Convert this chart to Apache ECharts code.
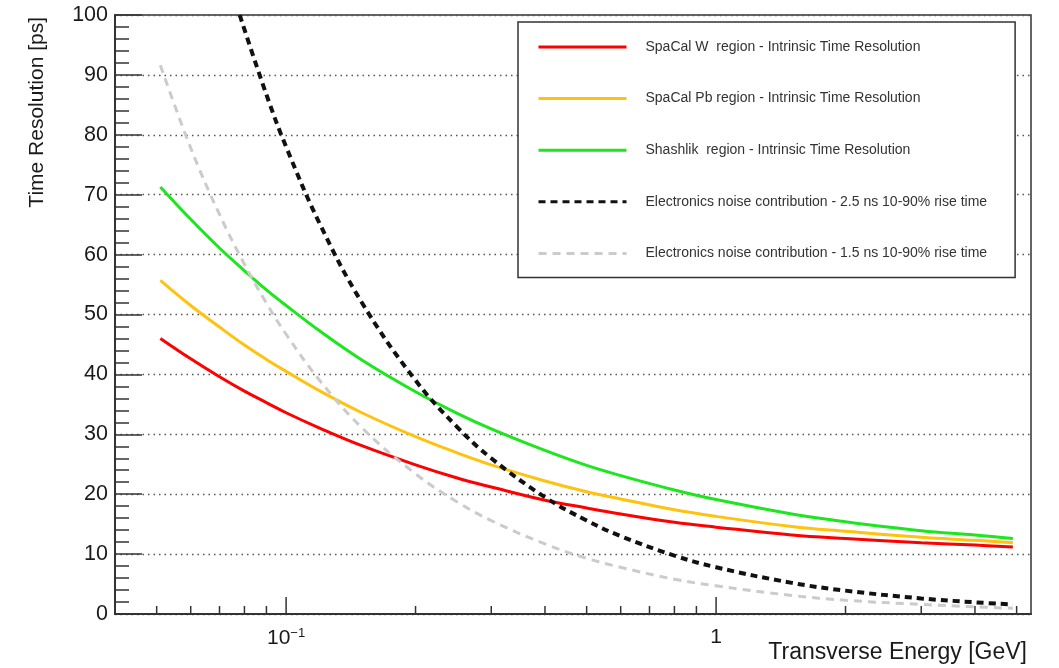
<!DOCTYPE html>
<html><head><meta charset="utf-8">
<script src="https://cdn.jsdelivr.net/npm/echarts@6/dist/echarts.min.js"></script>
<style>html,body{margin:0;padding:0;background:#fff}#c{width:1059px;height:668px}</style>
</head><body><div id="c"></div>
<script>
// ---- data ----
const energies = [0.051, 0.06, 0.07, 0.08, 0.09, 0.1, 0.12, 0.15, 0.2, 0.25, 0.3, 0.4, 0.5, 0.6, 0.8, 1, 1.5, 2, 3, 4, 4.9];
const spacalW  = [46.0, 42.6, 39.6, 37.2, 35.3, 33.6, 31.0, 28.1, 24.9, 22.7, 21.2, 19.0, 17.7, 16.7, 15.3, 14.5, 13.2, 12.6, 11.9, 11.5, 11.2];
const spacalPb = [55.7, 51.5, 47.9, 44.9, 42.5, 40.5, 37.2, 33.6, 29.6, 26.9, 24.9, 22.2, 20.4, 19.2, 17.4, 16.3, 14.6, 13.8, 12.8, 12.3, 11.9];
const shashlik = [71.3, 65.9, 61.1, 57.3, 54.1, 51.5, 47.2, 42.4, 37.1, 33.5, 30.9, 27.3, 24.8, 23.1, 20.7, 19.1, 16.7, 15.4, 13.9, 13.2, 12.6];
const noise15  = [91.6, 77.8, 66.7, 58.4, 51.9, 46.7, 38.9, 31.1, 23.4, 18.7, 15.6, 11.7, 9.3, 7.8, 5.8, 4.7, 3.1, 2.3, 1.6, 1.2, 0.95];
const noise25Energies = [0.078, 0.09, 0.1, 0.12, 0.15, 0.2, 0.25, 0.3, 0.4, 0.5, 0.6, 0.8, 1, 1.5, 2, 3, 4, 4.9];
const noise25  = [100, 86.7, 78, 65, 52, 39, 31.2, 26, 19.5, 15.6, 13, 9.75, 7.8, 5.2, 3.9, 2.6, 1.95, 1.59];

const seriesNames = [
  'SpaCal W  region - Intrinsic Time Resolution',
  'SpaCal Pb region - Intrinsic Time Resolution',
  'Shashlik  region - Intrinsic Time Resolution',
  'Electronics noise contribution - 2.5 ns 10-90% rise time',
  'Electronics noise contribution - 1.5 ns 10-90% rise time'
];
const xMajorTicks = [0.1, 1];
const xMinorTicks = [0.05, 0.06, 0.07, 0.08, 0.09, 0.2, 0.3, 0.4, 0.5, 0.6, 0.7, 0.8, 0.9, 2, 3, 4, 5];
const xRange = [0.04, 5.4];
const yRange = [0, 100];
const yTickStep = 10;
const xTitle = 'Transverse Energy [GeV]';
const yTitle = 'Time Resolution [ps]';

// ---- chart ----
const FONT = '"Liberation Sans", Arial, Helvetica, sans-serif';
const pair = (xs, ys) => xs.map((x, i) => [x, ys[i]]);
const chart = echarts.init(document.getElementById('c'), null, {renderer: 'canvas'});

function lineSeries(name, xs, ys, color, width, dash) {
  return {
    name, type: 'line', data: pair(xs, ys), symbol: 'none', showSymbol: false,
    smooth: 0.4, clip: true, z: 3,
    lineStyle: {color, width, type: dash || 'solid', cap: 'butt'},
    itemStyle: {color},
    emphasis: {disabled: true}
  };
}

const option = {
  animation: false,
  backgroundColor: '#ffffff',
  textStyle: {fontFamily: FONT},
  grid: {left: 115, right: 28, top: 15, bottom: 54, show: true, borderColor: '#333', borderWidth: 1.5, backgroundColor: 'transparent'},
  xAxis: {
    type: 'log', logBase: 10, min: xRange[0], max: xRange[1],
    axisLine: {show: true, lineStyle: {color: '#333', width: 2}},
    axisTick: {show: false},
    splitLine: {show: false},
    axisLabel: {
      showMinLabel: false, showMaxLabel: false, margin: 13,
      fontSize: 21, color: '#1a1a1a', fontFamily: FONT,
      formatter: v => Math.abs(v - 0.1) < 1e-9 ? '10{sup|\u22121}' : (Math.abs(v - 1) < 1e-9 ? '1' : ''),
      rich: {sup: {fontSize: 13, verticalAlign: 'top', padding: [0, 0, 10, 0], color: '#1a1a1a', fontFamily: FONT}}
    }
  },
  yAxis: {
    type: 'value', min: yRange[0], max: yRange[1], interval: yTickStep,
    axisLine: {show: true, lineStyle: {color: '#333', width: 2}},
    axisTick: {show: true, inside: true, length: 27, lineStyle: {color: '#333', width: 1.5}},
    minorTick: {show: true, splitNumber: 5, length: 14, lineStyle: {color: '#333', width: 1.5}},
    splitLine: {show: true, lineStyle: {color: '#555', width: 1.3, type: [1.5, 4]}},
    axisLabel: {fontSize: 21.5, color: '#1a1a1a', margin: 7, fontFamily: FONT}
  },
  legend: {
    orient: 'vertical', left: 518, top: 22,
    data: seriesNames,
    selectedMode: false,
    backgroundColor: '#ffffff', borderColor: '#333', borderWidth: 1.5,
    padding: [18, 28, 17, 19],
    itemGap: 37.6, itemWidth: 88, itemHeight: 14,
    itemStyle: {opacity: 0},
    lineStyle: {width: 3},
    textStyle: {fontSize: 14, color: '#333', fontFamily: FONT, padding: [0, 0, 0, 14]},
    z: 10
  },
  graphic: [
    {type: 'text', x: 37, y: 17, rotation: Math.PI / 2, z: 10,
      style: {text: yTitle, fontSize: 21, fontFamily: FONT, fill: '#1a1a1a', align: 'right', verticalAlign: 'middle'}},
    {type: 'text', x: 1027, y: 653, z: 10,
      style: {text: xTitle, fontSize: 23, fontFamily: FONT, fill: '#1a1a1a', align: 'right', verticalAlign: 'middle'}}
  ],
  series: [
    lineSeries(seriesNames[0], energies, spacalW, '#ff0000', 3),
    lineSeries(seriesNames[1], energies, spacalPb, '#ffc20e', 3),
    lineSeries(seriesNames[2], energies, shashlik, '#1ee61e', 3),
    lineSeries(seriesNames[3], noise25Energies, noise25, '#111111', 4, [7, 5]),
    lineSeries(seriesNames[4], energies, noise15, '#cbcbcb', 3, [8, 6]),
    {
      type: 'custom', silent: true, z: 5, clip: false,
      data: xMajorTicks.map(v => [v, 0, 1]).concat(xMinorTicks.map(v => [v, 0, 0])),
      encode: {x: 0, y: 1},
      renderItem: (params, api) => {
        const p = api.coord([api.value(0), 0]);
        const len = api.value(2) ? 17 : 8;
        return {type: 'line', shape: {x1: p[0], y1: p[1], x2: p[0], y2: p[1] - len},
          style: {stroke: '#333', lineWidth: 1.5}};
      }
    }
  ]
};
chart.setOption(option);
</script>
</body></html>
